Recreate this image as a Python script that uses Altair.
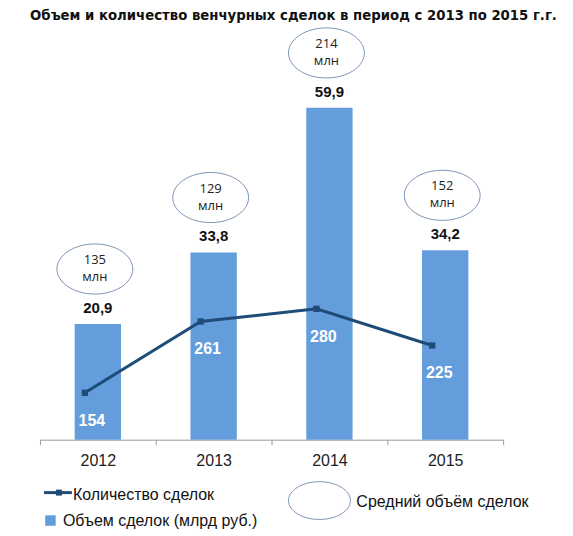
import altair as alt
import pandas as pd

years = ["2012", "2013", "2014", "2015"]
volume = [20.9, 33.8, 59.9, 34.2]
volume_text = ["20,9", "33,8", "59,9", "34,2"]
deals = [154, 261, 280, 225]
avg_deal = ["135", "129", "214", "152"]

title = "Объем и количество венчурных сделок в период с 2013 по 2015 г.г."
legend_line = "Количество сделок"
legend_bar = "Объем сделок (млрд руб.)"
legend_ring = "Средний объём сделок"

BAR = "#639ddc"
LINE = "#1f4b78"
RING = "#7b93b5"
ELLIPSE = "M-1,0A1,0.66,0,1,1,1,0A1,0.66,0,1,1,-1,0Z"
ELLIPSE_SMALL = "M-1,0A1,0.61,0,1,1,1,0A1,0.61,0,1,1,-1,0Z"
FONT = "Liberation Sans"


def make_chart():
    df = pd.DataFrame({
        "year": years,
        "volume": volume,
        "volume_text": volume_text,
        "deals": deals,
        "avg": avg_deal,
    })
    one = pd.DataFrame({"k": [0]})

    x = alt.X("year:N", sort=years,
              scale=alt.Scale(paddingInner=0, paddingOuter=0),
              axis=alt.Axis(title=None, labelAngle=0, tickBand="extent", tickSize=5,
                            tickColor="#9a9a9a", domainColor="#9a9a9a", grid=False,
                            labelFont=FONT, labelFontSize=16, labelColor="#222",
                            labelPadding=8))
    y_vol = alt.Y("volume:Q", scale=alt.Scale(domain=[0, 72.07]), axis=None)
    y_deals = alt.Y("deals:Q", scale=alt.Scale(domain=[83.5, 683.2]), axis=None)

    base = alt.Chart(df)
    bars = base.mark_bar(color=BAR, width=alt.RelativeBandSize(0.4)).encode(x=x, y=y_vol)
    bar_text = base.mark_text(font=FONT, fontSize=15, fontWeight="bold", color="#111",
                              baseline="middle", dy=-16).encode(x=x, y=y_vol, text="volume_text:N")
    rings = base.mark_point(shape=ELLIPSE, size=5776, filled=True, fill="white", opacity=1,
                            stroke=RING, strokeWidth=1, xOffset=-3, yOffset=-55).encode(x=x, y=y_vol)
    ring_num = base.mark_text(font="Open Sans", fontSize=13, color="#222", baseline="middle",
                              dx=-3, dy=-64).encode(x=x, y=y_vol, text="avg:N")
    ring_unit = base.mark_text(font="Open Sans", fontSize=13, color="#222", baseline="middle",
                               dx=-3, dy=-47, text="млн").encode(x=x, y=y_vol)

    line = base.mark_line(color=LINE, strokeWidth=3, xOffset=-13).encode(x=x, y=y_deals)
    marks = base.mark_square(color=LINE, size=40, opacity=1, xOffset=-13).encode(x=x, y=y_deals)
    line_text = base.mark_text(font=FONT, fontSize=16, fontWeight="bold", color="white",
                               baseline="middle", dx=-6, dy=28).encode(x=x, y=y_deals, text="deals:Q")

    lg = alt.Chart(one)
    lg_line = lg.mark_rule(color=LINE, strokeWidth=3).encode(
        x=alt.value(4), x2=alt.value(32), y=alt.value(453))
    lg_mark = lg.mark_square(color=LINE, size=36, opacity=1).encode(x=alt.value(19), y=alt.value(453))
    lg_line_text = lg.mark_text(text=legend_line, font=FONT, fontSize=16, color="#111",
                                align="left", baseline="middle").encode(x=alt.value(33), y=alt.value(455))
    lg_bar = lg.mark_square(color=BAR, size=110, opacity=1).encode(x=alt.value(10.5), y=alt.value(481))
    lg_bar_text = lg.mark_text(text=legend_bar, font=FONT, fontSize=16, color="#111",
                               align="left", baseline="middle").encode(x=alt.value(23), y=alt.value(481))
    lg_ring = lg.mark_point(shape=ELLIPSE_SMALL, size=3844, filled=True, fill="white", opacity=1,
                            stroke=RING, strokeWidth=1).encode(x=alt.value(280), y=alt.value(461))
    lg_ring_text = lg.mark_text(text=legend_ring, font=FONT, fontSize=16, color="#111",
                                align="left", baseline="middle").encode(x=alt.value(317), y=alt.value(462))
    head = lg.mark_text(text=title, font="DejaVu Sans", fontSize=13.3, fontWeight="bold", color="#111",
                        align="center", baseline="middle").encode(x=alt.value(254), y=alt.value(-24))

    return alt.layer(
        bars, line, marks, bar_text, line_text, rings, ring_num, ring_unit,
        lg_line, lg_mark, lg_line_text, lg_bar, lg_bar_text, lg_ring, lg_ring_text, head
    ).resolve_scale(y="independent").properties(
        width=464,
        height=400,
        padding={"left": 32, "top": 32, "right": 62, "bottom": 94},
        autosize=alt.AutoSizeParams(type="none"),
    ).configure_view(stroke=None)


chart = make_chart()
chart.save("out.html", embed_options={"renderer": "svg", "actions": False})
